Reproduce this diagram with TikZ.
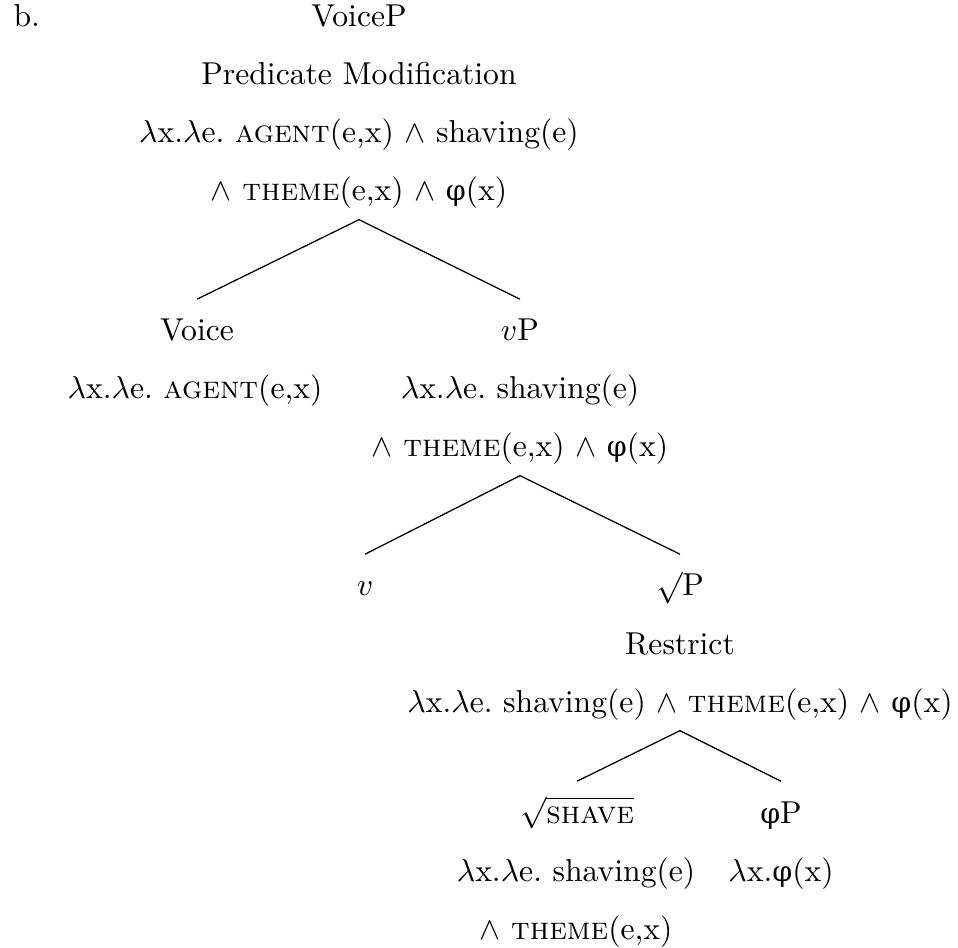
\documentclass[tikz,border=0pt]{standalone}
\usepackage{fontspec}
\newfontfamily\phifont{DejaVu Serif}[Scale=0.9]
\newcommand{\phisym}{{\phifont φ}}
\newcommand{\lamx}{$\lambda$x.}
\newcommand{\lame}{$\lambda$e.}
\newcommand{\andsym}{$\wedge$}
\usepackage{tikz}

\begin{document}
\begin{tikzpicture}[x=0.316pt,y=-0.316pt,
  lbl/.style={anchor=base,inner xsep=0pt,inner ysep=0pt,text height=13pt,text depth=5.7pt},
  branch/.style={line width=0.4pt}
]
  \useasboundingbox (0,0) rectangle (958,948);

  % Example label
  \node[lbl,anchor=base west] (ex) at (13,27) {b.};

  % VoiceP
  \node[lbl] (root1) at (359,27) {VoiceP};
  \node[lbl] (root2) at (359,85) {Predicate Modification};
  \node[lbl] (root3) at (359,143) {\lamx\lame\ \textsc{agent}(e,x) \andsym\ shaving(e)};
  \node[lbl] (root4) at (359,201) {\andsym\ \textsc{theme}(e,x) \andsym\ \phisym(x)};

  % Voice
  \node[lbl] (voice1) at (197,341) {Voice};
  \node[lbl] (voice2) at (195,399) {\lamx\lame\ \textsc{agent}(e,x)};

  % vP
  \node[lbl] (vp1) at (520,341) {$v$P};
  \node[lbl] (vp2) at (520,399) {\lamx\lame\ shaving(e)};
  \node[lbl] (vp3) at (520,457) {\andsym\ \textsc{theme}(e,x) \andsym\ \phisym(x)};

  % v
  \node[lbl] (v1) at (365,596) {$v$};

  % root P
  \node[lbl] (rp1) at (680,596) {$\surd$P};
  \node[lbl] (rp2) at (680,654) {Restrict};
  \node[lbl] (rp3) at (680,712) {\lamx\lame\ shaving(e) \andsym\ \textsc{theme}(e,x) \andsym\ \phisym(x)};

  % root SHAVE
  \node[lbl] (sh1) at (577,823) {$\sqrt{\textsc{shave}}$};
  \node[lbl] (sh2) at (576,881) {\lamx\lame\ shaving(e)};
  \node[lbl] (sh3) at (576,939) {\andsym\ \textsc{theme}(e,x)};

  % phiP
  \node[lbl] (phi1) at (781,823) {\phisym P};
  \node[lbl] (phi2) at (781,881) {\lamx\phisym(x)};

  % Branches
  \draw[branch] (voice1.north) -- (root4.south) -- (vp1.north);
  \draw[branch] (v1.north) -- (vp3.south) -- (rp1.north);
  \draw[branch] (sh1.north) -- (rp3.south) -- (phi1.north);
\end{tikzpicture}
\end{document}
